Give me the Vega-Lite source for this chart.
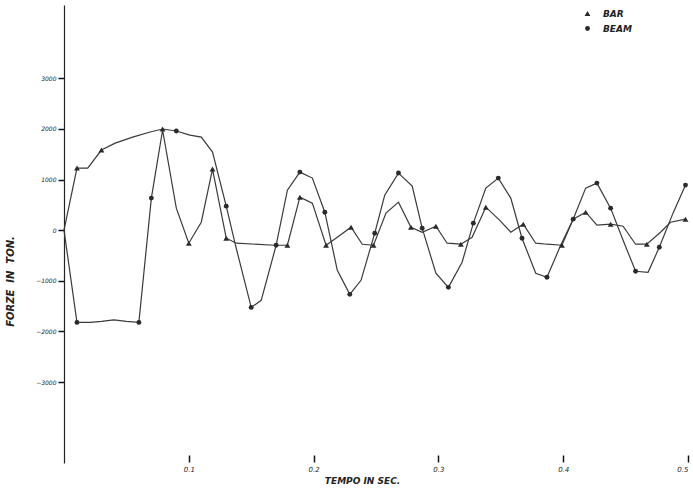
{
  "$schema": "https://vega.github.io/schema/vega-lite/v6.json",
  "width": 624,
  "height": 458,
  "autosize": {"type": "none"},
  "padding": {"left": 64, "top": 5, "right": 5, "bottom": 32},
  "background": "white",
  "config": {
    "view": {"stroke": null},
    "font": "DejaVu Sans",
    "axis": {"ticks": true, "tickColor": "#111", "tickOpacity": 1, "tickWidth": 1.5}
  },
  "datasets": {
    "curves": [
      {"curve": "A", "t": 0, "force": 0},
      {"curve": "A", "t": 0.0104, "force": 1228},
      {"curve": "A", "t": 0.019, "force": 1228},
      {"curve": "A", "t": 0.030, "force": 1584},
      {"curve": "A", "t": 0.041, "force": 1720},
      {"curve": "A", "t": 0.055, "force": 1840},
      {"curve": "A", "t": 0.069, "force": 1940},
      {"curve": "A", "t": 0.079, "force": 2000},
      {"curve": "A", "t": 0.090, "force": 1960},
      {"curve": "A", "t": 0.101, "force": 1880},
      {"curve": "A", "t": 0.110, "force": 1840},
      {"curve": "A", "t": 0.119, "force": 1545},
      {"curve": "A", "t": 0.130, "force": 475},
      {"curve": "A", "t": 0.137, "force": -257},
      {"curve": "A", "t": 0.150, "force": -1525},
      {"curve": "A", "t": 0.158, "force": -1386},
      {"curve": "A", "t": 0.170, "force": -297},
      {"curve": "A", "t": 0.179, "force": 792},
      {"curve": "A", "t": 0.189, "force": 1148},
      {"curve": "A", "t": 0.199, "force": 1030},
      {"curve": "A", "t": 0.209, "force": 356},
      {"curve": "A", "t": 0.219, "force": -792},
      {"curve": "A", "t": 0.229, "force": -1267},
      {"curve": "A", "t": 0.238, "force": -990},
      {"curve": "A", "t": 0.249, "force": -59},
      {"curve": "A", "t": 0.257, "force": 693},
      {"curve": "A", "t": 0.268, "force": 1129},
      {"curve": "A", "t": 0.279, "force": 871},
      {"curve": "A", "t": 0.287, "force": 40},
      {"curve": "A", "t": 0.298, "force": -851},
      {"curve": "A", "t": 0.308, "force": -1129},
      {"curve": "A", "t": 0.319, "force": -634},
      {"curve": "A", "t": 0.328, "force": 139},
      {"curve": "A", "t": 0.338, "force": 832},
      {"curve": "A", "t": 0.348, "force": 1030},
      {"curve": "A", "t": 0.358, "force": 634},
      {"curve": "A", "t": 0.367, "force": -158},
      {"curve": "A", "t": 0.378, "force": -851},
      {"curve": "A", "t": 0.387, "force": -931},
      {"curve": "A", "t": 0.398, "force": -297},
      {"curve": "A", "t": 0.408, "force": 218},
      {"curve": "A", "t": 0.418, "force": 832},
      {"curve": "A", "t": 0.427, "force": 931},
      {"curve": "A", "t": 0.438, "force": 436},
      {"curve": "A", "t": 0.448, "force": -198},
      {"curve": "A", "t": 0.458, "force": -812},
      {"curve": "A", "t": 0.468, "force": -832},
      {"curve": "A", "t": 0.477, "force": -337},
      {"curve": "A", "t": 0.488, "force": 337},
      {"curve": "A", "t": 0.498, "force": 891},
      {"curve": "B", "t": 0, "force": 0},
      {"curve": "B", "t": 0.0104, "force": -1822},
      {"curve": "B", "t": 0.021, "force": -1822},
      {"curve": "B", "t": 0.030, "force": -1800},
      {"curve": "B", "t": 0.040, "force": -1770},
      {"curve": "B", "t": 0.050, "force": -1800},
      {"curve": "B", "t": 0.060, "force": -1822},
      {"curve": "B", "t": 0.070, "force": 634},
      {"curve": "B", "t": 0.079, "force": 1980},
      {"curve": "B", "t": 0.090, "force": 436},
      {"curve": "B", "t": 0.100, "force": -257},
      {"curve": "B", "t": 0.110, "force": 158},
      {"curve": "B", "t": 0.119, "force": 1208},
      {"curve": "B", "t": 0.130, "force": -158},
      {"curve": "B", "t": 0.138, "force": -257},
      {"curve": "B", "t": 0.169, "force": -297},
      {"curve": "B", "t": 0.179, "force": -297},
      {"curve": "B", "t": 0.189, "force": 653},
      {"curve": "B", "t": 0.199, "force": 535},
      {"curve": "B", "t": 0.210, "force": -297},
      {"curve": "B", "t": 0.219, "force": -139},
      {"curve": "B", "t": 0.230, "force": 59},
      {"curve": "B", "t": 0.239, "force": -277},
      {"curve": "B", "t": 0.248, "force": -297},
      {"curve": "B", "t": 0.258, "force": 337},
      {"curve": "B", "t": 0.268, "force": 554},
      {"curve": "B", "t": 0.278, "force": 59},
      {"curve": "B", "t": 0.287, "force": -40},
      {"curve": "B", "t": 0.298, "force": 79},
      {"curve": "B", "t": 0.307, "force": -257},
      {"curve": "B", "t": 0.318, "force": -277},
      {"curve": "B", "t": 0.327, "force": -139},
      {"curve": "B", "t": 0.338, "force": 455},
      {"curve": "B", "t": 0.349, "force": 198},
      {"curve": "B", "t": 0.358, "force": -40},
      {"curve": "B", "t": 0.368, "force": 119},
      {"curve": "B", "t": 0.378, "force": -257},
      {"curve": "B", "t": 0.387, "force": -277},
      {"curve": "B", "t": 0.399, "force": -297},
      {"curve": "B", "t": 0.408, "force": 218},
      {"curve": "B", "t": 0.418, "force": 356},
      {"curve": "B", "t": 0.427, "force": 99},
      {"curve": "B", "t": 0.438, "force": 119},
      {"curve": "B", "t": 0.448, "force": 79},
      {"curve": "B", "t": 0.458, "force": -277},
      {"curve": "B", "t": 0.467, "force": -277},
      {"curve": "B", "t": 0.478, "force": -40},
      {"curve": "B", "t": 0.486, "force": 158},
      {"curve": "B", "t": 0.498, "force": 218}
    ],
    "markers": [
      {"series": "BAR", "t": 0.0104, "force": 1228},
      {"series": "BAR", "t": 0.030, "force": 1584},
      {"series": "BAR", "t": 0.079, "force": 2000},
      {"series": "BAR", "t": 0.100, "force": -257},
      {"series": "BAR", "t": 0.119, "force": 1208},
      {"series": "BAR", "t": 0.130, "force": -158},
      {"series": "BAR", "t": 0.179, "force": -297},
      {"series": "BAR", "t": 0.189, "force": 653},
      {"series": "BAR", "t": 0.210, "force": -297},
      {"series": "BAR", "t": 0.230, "force": 59},
      {"series": "BAR", "t": 0.248, "force": -297},
      {"series": "BAR", "t": 0.278, "force": 59},
      {"series": "BAR", "t": 0.298, "force": 79},
      {"series": "BAR", "t": 0.318, "force": -277},
      {"series": "BAR", "t": 0.338, "force": 455},
      {"series": "BAR", "t": 0.368, "force": 119},
      {"series": "BAR", "t": 0.399, "force": -297},
      {"series": "BAR", "t": 0.418, "force": 356},
      {"series": "BAR", "t": 0.438, "force": 119},
      {"series": "BAR", "t": 0.467, "force": -277},
      {"series": "BAR", "t": 0.498, "force": 218},
      {"series": "BEAM", "t": 0.0104, "force": -1822},
      {"series": "BEAM", "t": 0.060, "force": -1822},
      {"series": "BEAM", "t": 0.070, "force": 634},
      {"series": "BEAM", "t": 0.090, "force": 1960},
      {"series": "BEAM", "t": 0.130, "force": 475},
      {"series": "BEAM", "t": 0.150, "force": -1525},
      {"series": "BEAM", "t": 0.170, "force": -297},
      {"series": "BEAM", "t": 0.189, "force": 1148},
      {"series": "BEAM", "t": 0.209, "force": 356},
      {"series": "BEAM", "t": 0.229, "force": -1267},
      {"series": "BEAM", "t": 0.249, "force": -59},
      {"series": "BEAM", "t": 0.268, "force": 1129},
      {"series": "BEAM", "t": 0.287, "force": 40},
      {"series": "BEAM", "t": 0.308, "force": -1129},
      {"series": "BEAM", "t": 0.328, "force": 139},
      {"series": "BEAM", "t": 0.348, "force": 1030},
      {"series": "BEAM", "t": 0.367, "force": -158},
      {"series": "BEAM", "t": 0.387, "force": -931},
      {"series": "BEAM", "t": 0.408, "force": 218},
      {"series": "BEAM", "t": 0.427, "force": 931},
      {"series": "BEAM", "t": 0.438, "force": 436},
      {"series": "BEAM", "t": 0.458, "force": -812},
      {"series": "BEAM", "t": 0.477, "force": -337},
      {"series": "BEAM", "t": 0.498, "force": 891}
    ]
  },
  "encoding": {
    "x": {
      "field": "t", "type": "quantitative",
      "scale": {"domain": [0, 0.5], "nice": false, "zero": false},
      "axis": {
        "title": "TEMPO IN SEC.",
        "values": [0.1, 0.2, 0.3, 0.4, 0.5],
        "format": ".1f",
        "domain": false, "grid": false,
        "ticks": true, "tickSize": 7, "tickColor": "#111", "tickWidth": 1.5,
        "offset": -8,
        "labelPadding": 3,
        "labelFont": "DejaVu Sans", "labelFontSize": 7, "labelFontStyle": "italic", "labelColor": "#222",
        "titleFont": "DejaVu Sans", "titleFontSize": 9, "titleFontStyle": "italic", "titleFontWeight": "bold", "titleColor": "#222",
        "titlePadding": 4, "titleX": 298
      }
    },
    "y": {
      "field": "force", "type": "quantitative",
      "scale": {"domain": [-4600, 4450], "nice": false, "zero": false},
      "axis": {
        "title": "FORZE\u00a0\u00a0IN\u00a0\u00a0TON.",
        "values": [-3000, -2000, -1000, 0, 1000, 2000, 3000],
        "format": "d",
        "domain": true, "domainColor": "#222", "domainWidth": 1.2,
        "grid": false,
        "ticks": true, "tickSize": 6, "tickColor": "#111", "tickWidth": 1.5,
        "labelPadding": 2,
        "labelFont": "DejaVu Sans", "labelFontSize": 6, "labelFontStyle": "italic", "labelColor": "#222",
        "titleFont": "DejaVu Sans", "titleFontSize": 10, "titleFontStyle": "italic", "titleFontWeight": "bold", "titleColor": "#222",
        "titleAngle": -90, "titleX": -49, "titleY": 276
      }
    }
  },
  "layer": [
    {
      "data": {"values": [{"zero": 0}]},
      "mark": {"type": "rule", "color": "#555", "strokeWidth": 1.2},
      "encoding": {"y": {"field": "zero", "type": "quantitative"}}
    },
    {
      "data": {"name": "curves"},
      "mark": {"type": "line", "color": "#3a3a3a", "strokeWidth": 1.2},
      "encoding": {"detail": {"field": "curve"}, "order": {"field": "t"}}
    },
    {
      "data": {"name": "markers"},
      "mark": {"type": "point", "filled": true, "color": "#2a2a2a", "opacity": 1},
      "encoding": {
        "shape": {
          "field": "series", "type": "nominal",
          "scale": {"domain": ["BAR", "BEAM"], "range": ["triangle-up", "circle"]},
          "legend": {
            "title": null, "orient": "none", "legendX": 519, "legendY": 4,
            "padding": 0, "rowPadding": 3, "symbolSize": 30,
            "symbolFillColor": "#222", "symbolStrokeColor": "#222",
            "labelFont": "DejaVu Sans", "labelFontSize": 9, "labelFontStyle": "italic", "labelFontWeight": "bold",
            "labelColor": "#222", "labelOffset": 11
          }
        },
        "size": {
          "field": "series", "type": "nominal",
          "scale": {"domain": ["BAR", "BEAM"], "range": [34, 24]},
          "legend": {
            "title": null, "orient": "none", "legendX": 519, "legendY": 4,
            "padding": 0, "rowPadding": 3,
            "symbolFillColor": "#222", "symbolStrokeColor": "#222",
            "labelFont": "DejaVu Sans", "labelFontSize": 9, "labelFontStyle": "italic", "labelFontWeight": "bold",
            "labelColor": "#222", "labelOffset": 11
          }
        }
      }
    }
  ]
}
